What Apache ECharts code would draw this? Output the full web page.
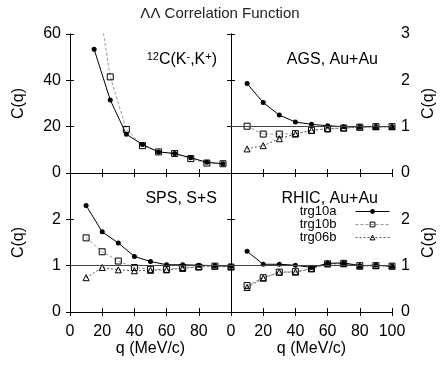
<!DOCTYPE html>
<html>
<head>
<meta charset="utf-8">
<script src="https://cdn.jsdelivr.net/npm/echarts@6/dist/echarts.min.js"></script>
<style>
html,body{margin:0;padding:0;background:#fff;}
#chart{width:440px;height:369px;}
</style>
</head>
<body>
<div id="chart"></div>
<script>
// q bins
const qCarbon = [15, 25, 35, 45, 55, 65, 75, 85, 95];
const qBins = [10, 20, 30, 40, 50, 60, 70, 80, 90, 100];

// 12C(K-,K+)
const carbon10a = [53.4, 31.5, 16.7, 12.3, 9.1, 8.4, 6.6, 4.6, 4.0];
const carbon10b = [86, 41.5, 18.8, 11.8, 9.1, 8.4, 6.2, 4.3, 4.0];
// AGS, Au+Au
const ags10a = [1.93, 1.52, 1.25, 1.10, 1.05, 1.02, 1.00, 1.00, 1.00, 1.00];
const ags10b = [1.01, 0.84, 0.84, 0.85, 0.92, 0.96, 0.97, 0.99, 1.00, 1.00];
const ags06b = [0.52, 0.59, 0.74, 0.84, 0.92, 0.95, 0.97, 0.99, 1.00, 1.00];
// SPS, S+S
const sps10a = [2.30, 1.73, 1.49, 1.20, 1.09, 1.02, 1.02, 1.01, 1.00, 0.99];
const sps10b = [1.60, 1.30, 1.10, 0.96, 0.92, 0.92, 0.96, 0.97, 0.99, 0.97];
const sps06b = [0.74, 0.96, 0.91, 0.89, 0.90, 0.91, 0.94, 0.98, 0.99, 0.98];
// RHIC, Au+Au
const rhic10a = [1.31, 1.03, 1.03, 1.01, 0.96, 1.05, 1.06, 1.00, 1.01, 0.99];
const rhic10b = [0.57, 0.74, 0.86, 0.87, 0.94, 1.04, 1.05, 1.00, 1.00, 0.99];
const rhic06b = [0.53, 0.73, 0.86, 0.86, 0.93, 1.04, 1.04, 0.99, 1.00, 0.99];

const font = "'Liberation Sans', Arial, sans-serif";
const pairs = (xs, ys) => xs.map((x, i) => [x, ys[i]]);

const grids = [
  {left: 70, top: 34, width: 161, height: 139},
  {left: 231, top: 34, width: 161, height: 139},
  {left: 70, top: 173, width: 161, height: 139},
  {left: 231, top: 173, width: 161, height: 139}
];

const tickStyle = {show: true, inside: true, length: 4, lineStyle: {color: '#000'}};
const lineStyle = {show: true, lineStyle: {color: '#000', width: 1}};

const xAxis = [];
const yAxis = [];
grids.forEach((g, i) => {
  const bottomRow = i >= 2;
  xAxis.push({
    type: 'value', gridIndex: i, min: 0, max: 100, interval: 20, position: 'bottom',
    axisLine: lineStyle, axisTick: tickStyle, splitLine: {show: false},
    axisLabel: {show: bottomRow, color: '#000', fontSize: 16, fontFamily: font, margin: 12,
      showMaxLabel: i === 3},
    name: bottomRow ? 'q (MeV/c)' : '', nameLocation: 'middle', nameGap: 25,
    nameTextStyle: {color: '#000', fontSize: 16, fontFamily: font}
  });
});
grids.forEach((g, i) => {
  xAxis.push({
    type: 'value', gridIndex: i, min: 0, max: 100, interval: 20, position: 'top',
    axisLine: lineStyle, axisTick: tickStyle, splitLine: {show: false}, axisLabel: {show: false}
  });
});
grids.forEach((g, i) => {
  const rightCol = i % 2 === 1;
  const carbon = i === 0;
  yAxis.push({
    type: 'value', gridIndex: i, min: 0, max: carbon ? 60 : 3, interval: carbon ? 20 : 1,
    position: rightCol ? 'right' : 'left',
    axisLine: lineStyle, axisTick: tickStyle, splitLine: {show: false},
    axisLabel: {color: '#000', fontSize: 16, fontFamily: font, margin: 9, showMaxLabel: i < 2},
    name: 'C(q)', nameLocation: 'middle', nameGap: rightCol ? 29 : 43, nameRotate: 90,
    nameTextStyle: {color: '#000', fontSize: 16, fontFamily: font}
  });
});
grids.forEach((g, i) => {
  const rightCol = i % 2 === 1;
  const carbon = i === 0;
  yAxis.push({
    type: 'value', gridIndex: i, min: 0, max: carbon ? 60 : 3, interval: carbon ? 20 : 1,
    position: rightCol ? 'left' : 'right',
    axisLine: lineStyle, axisTick: tickStyle, splitLine: {show: false}, axisLabel: {show: false}
  });
});

const unity = {
  silent: true, symbol: 'none', label: {show: false},
  lineStyle: {color: '#444', width: 1.2, type: 'solid'},
  data: [{yAxis: 1}]
};

function s10a(i, xs, ys, ref) {
  return {
    name: 'trg10a', type: 'line', xAxisIndex: i, yAxisIndex: i, data: pairs(xs, ys),
    symbol: 'circle', symbolSize: 5, z: 4,
    lineStyle: {color: '#000', width: 1},
    itemStyle: {color: '#000'},
    markLine: ref ? unity : undefined
  };
}
function s10b(i, xs, ys) {
  return {
    name: 'trg10b', type: 'line', xAxisIndex: i, yAxisIndex: i, data: pairs(xs, ys),
    symbol: 'rect', symbolSize: 6, z: 3,
    lineStyle: {color: '#999', width: 1, type: [3, 2]},
    itemStyle: {color: 'rgba(255,255,255,0)', borderColor: '#000', borderWidth: 1}
  };
}
function s06b(i, xs, ys) {
  return {
    name: 'trg06b', type: 'line', xAxisIndex: i, yAxisIndex: i, data: pairs(xs, ys),
    symbol: 'triangle', symbolSize: 6, z: 3,
    lineStyle: {color: '#555', width: 1, type: [2, 2]},
    itemStyle: {color: 'rgba(255,255,255,0)', borderColor: '#000', borderWidth: 1}
  };
}

const series = [
  s10b(0, qCarbon, carbon10b), s10a(0, qCarbon, carbon10a, false),
  s06b(1, qBins, ags06b), s10b(1, qBins, ags10b), s10a(1, qBins, ags10a, true),
  s06b(2, qBins, sps06b), s10b(2, qBins, sps10b), s10a(2, qBins, sps10a, true),
  s06b(3, qBins, rhic06b), s10b(3, qBins, rhic10b), s10a(3, qBins, rhic10a, true)
];

const labelStyle = {color: '#000', fontSize: 16, fontWeight: 'normal', fontFamily: font};

const chart = echarts.init(document.getElementById('chart'));
chart.setOption({
  animation: false,
  backgroundColor: '#fff',
  title: [
    {text: 'ΛΛ Correlation Function', left: 'center', top: 1,
      textStyle: {color: '#222', fontSize: 15, fontWeight: 'normal', fontFamily: font}},
    {text: '{s|12}C(K{s|-},K{s|+})', right: 218, top: 46,
      textStyle: Object.assign({}, labelStyle, {rich: {s: {fontSize: 11, verticalAlign: 'top', padding: [0, 0, 7, 0], fontFamily: font}}})},
    {text: 'AGS, Au+Au', right: 57, top: 47, textStyle: labelStyle},
    {text: 'SPS, S+S', right: 218, top: 186, textStyle: labelStyle},
    {text: 'RHIC, Au+Au', right: 57, top: 186, textStyle: labelStyle}
  ],
  legend: {
    data: ['trg10a', 'trg10b', 'trg06b'],
    orient: 'vertical', align: 'right', right: 50, top: 205, padding: 0,
    itemWidth: 34, itemHeight: 6, itemGap: 0,
    lineStyle: {width: 1},
    itemStyle: {borderWidth: 1},
    textStyle: {color: '#000', fontSize: 13, lineHeight: 13, fontFamily: font, padding: [0, 14, 0, 0]},
    selectedMode: false
  },
  grid: grids,
  xAxis: xAxis,
  yAxis: yAxis,
  series: series
});
</script>
</body>
</html>
